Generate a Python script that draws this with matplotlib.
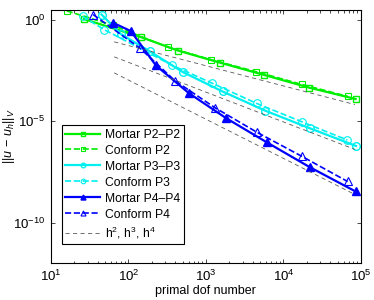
import matplotlib
matplotlib.use('Agg')
import matplotlib.pyplot as plt
from matplotlib.ticker import FixedLocator, LogLocator, NullFormatter

plt.rcParams['font.family'] = ['Liberation Sans', 'DejaVu Sans']
plt.rcParams['mathtext.fontset'] = 'custom'
plt.rcParams['mathtext.rm'] = 'Liberation Sans'
plt.rcParams['mathtext.it'] = 'Liberation Sans:italic'
plt.rcParams['mathtext.bf'] = 'Liberation Sans:bold'

# valeurs
dof_mortar_p2 = [26.7, 145, 439, 1516, 5653, 21530, 85420]
err_mortar_p2 = [1.06, 0.137, 0.0296, 7.56e-3, 1.87e-3, 4.42e-4, 1.22e-4]
dof_conform_p2 = [16, 63, 326, 1160, 4416, 17170, 67360]
err_conform_p2 = [2.7, 0.523, 0.0430, 0.01063, 2.72e-3, 6.43e-4, 1.64e-4]

dof_mortar_p3 = [45.1, 80, 189, 505, 1642, 5824, 22180, 86190]
err_mortar_p3 = [1.765, 0.1926, 0.0273, 2.57e-3, 2.87e-4, 3.24e-5, 4.34e-6, 5.94e-7]
dof_conform_p3 = [25.6, 48.7, 364, 1184, 4510, 17170, 66960]
err_conform_p3 = [1.455, 0.321, 5.69e-3, 7.54e-4, 7.43e-5, 9.29e-6, 1.16e-6]

dof_mortar_p4 = [63.7, 107.7, 226, 603, 1812, 6071, 21980, 85420]
err_mortar_p4 = [0.687, 0.271, 5.56e-3, 2.37e-4, 1.41e-5, 9.05e-7, 5.29e-8, 3.38e-9]
dof_conform_p4 = [35.1, 140.7, 398, 1306, 4591, 17170, 67360]
err_conform_p4 = [1.765, 0.0393, 9.79e-4, 4.56e-5, 2.75e-6, 1.85e-7, 1.05e-8]

# droites de reference h^2, h^3, h^4
dof_ref = [65.6, 83700]
err_h2 = [0.080, 6.5e-5]
err_h3 = [0.0146, 4.0e-7]
err_h4 = [2.37e-3, 2.4e-9]

green = '#00ee00'
cyan = '#00f0f0'
blue = '#0000ff'

fig = plt.figure(figsize=(3.74, 3.0), dpi=100)
ax = fig.add_axes([0.136, 0.123, 0.829, 0.844])

ax.loglog(dof_mortar_p2, err_mortar_p2, '-s', color=green, lw=1.6, ms=5,
          mfc='none', mew=1.0, label='Mortar P2–P2')
ax.loglog(dof_conform_p2, err_conform_p2, '--s', color=green, lw=1.2, ms=5,
          mfc='none', mew=0.8, label='Conform P2')
ax.loglog(dof_mortar_p3, err_mortar_p3, '-o', color=cyan, lw=1.6, ms=5.5,
          mfc='none', mew=1.0, label='Mortar P3–P3')
ax.loglog(dof_conform_p3, err_conform_p3, '--o', color=cyan, lw=1.2, ms=5.5,
          mfc='none', mew=0.8, label='Conform P3')
ax.loglog(dof_mortar_p4, err_mortar_p4, '-^', color=blue, lw=1.6, ms=6,
          mfc=blue, mew=1.0, label='Mortar P4–P4')
ax.loglog(dof_conform_p4, err_conform_p4, '--^', color=blue, lw=1.2, ms=6,
          mfc='none', mew=0.8, label='Conform P4')
ax.loglog(dof_ref, err_h2, '--', color='0.35', lw=0.6, dashes=(5, 4),
          label='h$^2$, h$^3$, h$^4$')
ax.loglog(dof_ref, err_h3, '--', color='0.35', lw=0.6, dashes=(5, 4))
ax.loglog(dof_ref, err_h4, '--', color='0.35', lw=0.6, dashes=(5, 4))

ax.set_xlim(10, 1e5)
ax.set_ylim(1e-12, 3.0)
ax.xaxis.set_major_locator(FixedLocator([1e1, 1e2, 1e3, 1e4, 1e5]))
ax.xaxis.set_minor_locator(LogLocator(base=10, subs=range(2, 10), numticks=20))
ax.xaxis.set_minor_formatter(NullFormatter())
ax.yaxis.set_major_locator(FixedLocator([1e-10, 1e-5, 1e0]))
ax.yaxis.set_minor_locator(FixedLocator([]))
ax.tick_params(which='both', direction='in', top=True, right=True,
               labelsize=9.5, width=0.5)
ax.tick_params(which='major', length=3, pad=4)
ax.tick_params(which='minor', length=1.8)
for s in ax.spines.values():
    s.set_linewidth(0.8)

ax.set_xlabel('primal dof number', fontsize=9, labelpad=1)
ax.set_ylabel(r'$||u\,-\,u_h||_V$', fontsize=9)
ax.yaxis.set_label_coords(-0.108, 0.5)

leg = ax.legend(loc='upper left', bbox_to_anchor=(0.035, 0.545),
                fontsize=8.7, frameon=True, fancybox=False, framealpha=1,
                edgecolor='black', handlelength=2.9, markerscale=0.6,
                borderpad=0.3, labelspacing=0.33, handletextpad=0.4,
                borderaxespad=0)
leg.get_frame().set_linewidth(0.8)

fig.savefig('out.png', dpi=100)
